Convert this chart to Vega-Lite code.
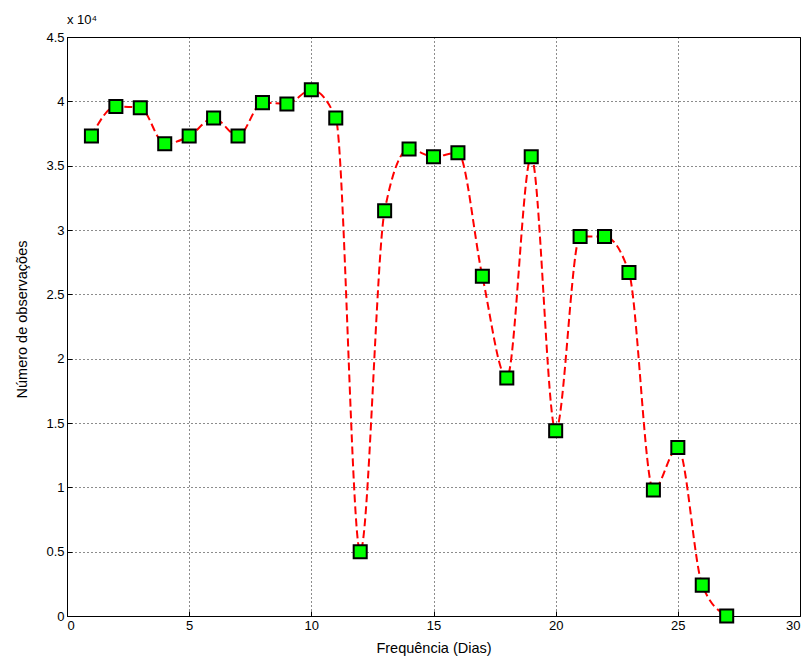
{
  "$schema": "https://vega.github.io/schema/vega-lite/v6.json",
  "autosize": "none",
  "width": 733,
  "height": 579,
  "padding": {"left": 67, "top": 37, "right": 8, "bottom": 46},
  "background": "white",
  "config": {
    "font": "Liberation Sans",
    "view": {"stroke": "black", "strokeWidth": 1},
    "axis": {
      "labelFont": "Liberation Sans",
      "titleFont": "Liberation Sans",
      "labelFontSize": 13,
      "titleFontSize": 14.5,
      "labelColor": "black",
      "titleColor": "black",
      "titleFontWeight": "normal",
      "domain": false,
      "tickColor": "black",
      "tickSize": -5,
      "grid": true,
      "gridColor": "black",
      "gridDash": [1, 3],
      "gridOpacity": 0.9
    }
  },
  "title": {
    "text": "x 10⁴",
    "anchor": "start",
    "frame": "group",
    "fontSize": 13,
    "font": "Liberation Sans",
    "fontWeight": "normal",
    "color": "black",
    "offset": 4
  },
  "data": {
    "values": [
      {"dias": 1, "obs": 37300},
      {"dias": 2, "obs": 39600},
      {"dias": 3, "obs": 39500},
      {"dias": 4, "obs": 36700},
      {"dias": 5, "obs": 37300},
      {"dias": 6, "obs": 38700},
      {"dias": 7, "obs": 37300},
      {"dias": 8, "obs": 39900},
      {"dias": 9, "obs": 39800},
      {"dias": 10, "obs": 40900},
      {"dias": 11, "obs": 38700},
      {"dias": 12, "obs": 5000},
      {"dias": 13, "obs": 31500},
      {"dias": 14, "obs": 36300},
      {"dias": 15, "obs": 35700},
      {"dias": 16, "obs": 36000},
      {"dias": 17, "obs": 26400},
      {"dias": 18, "obs": 18500},
      {"dias": 19, "obs": 35700},
      {"dias": 20, "obs": 14400},
      {"dias": 21, "obs": 29500},
      {"dias": 22, "obs": 29500},
      {"dias": 23, "obs": 26700},
      {"dias": 24, "obs": 9800},
      {"dias": 25, "obs": 13100},
      {"dias": 26, "obs": 2400},
      {"dias": 27, "obs": 0}
    ]
  },
  "encoding": {
    "x": {
      "field": "dias",
      "type": "quantitative",
      "scale": {"domain": [0, 30], "nice": false},
      "axis": {"values": [0, 5, 10, 15, 20, 25, 30], "title": "Frequência (Dias)", "labelPadding": 8, "titlePadding": 9}
    },
    "y": {
      "field": "obs",
      "type": "quantitative",
      "scale": {"domain": [0, 45000], "nice": false},
      "axis": {
        "values": [0, 5000, 10000, 15000, 20000, 25000, 30000, 35000, 40000, 45000],
        "labelExpr": "format(datum.value / 10000, '')",
        "title": "Número de observações",
        "labelPadding": 8,
        "titlePadding": 16,
        "titleY": 282
      }
    }
  },
  "layer": [
    {
      "mark": {"type": "line", "color": "#ff0000", "strokeWidth": 2, "strokeDash": [8, 4], "interpolate": "monotone"}
    },
    {
      "mark": {"type": "point", "shape": "square", "filled": true, "fill": "#00ff00", "stroke": "black", "strokeWidth": 2, "size": 170, "opacity": 1}
    }
  ]
}
